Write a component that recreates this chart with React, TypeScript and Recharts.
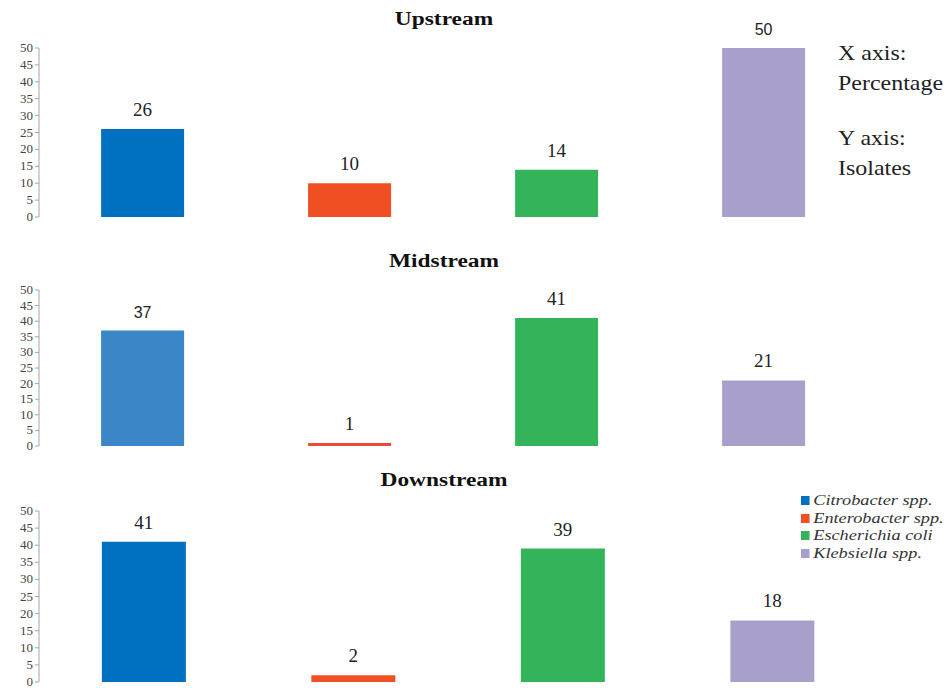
import React from 'react';
import { BarChart, Bar, XAxis, YAxis, Cell, LabelList, Legend } from 'recharts';

// Values (percent of isolates)
const species = ['Citrobacter spp.', 'Enterobacter spp.', 'Escherichia coli', 'Klebsiella spp.'];
const upstream = [26, 10, 14, 50];
const midstream = [37, 1, 41, 21];
const downstream = [41, 2, 39, 18];
const yTicks = [0, 5, 10, 15, 20, 25, 30, 35, 40, 45, 50];
const sideNotes = [['X axis:', 'Percentage'], ['Y axis:', 'Isolates']];

const SERIF = '"Liberation Serif", "Times New Roman", serif';
const SANS = '"Liberation Sans", Arial, sans-serif';
const AXIS_GRAY = '#a6a6a6';

const palette = ['#0070c0', '#f04e23', '#33b45b', '#a89fcb'];
const midPalette = ['#3a86c6', '#e94b35', '#33b45b', '#a89fcb'];

interface PanelProps {
  title: string;
  values: number[];
  colors: string[];
  top: number;
  height: number;
  margin: { top: number; right: number; bottom: number; left: number };
  titleY: number;
  sansLabel?: number; // index of the one label that was typeset in a sans font
  showLegend?: boolean;
}

const LegendBox = () => (
  <div
    style={{
      fontFamily: SERIF, fontStyle: 'italic', fontSize: 15, lineHeight: '17.5px', color: '#333',
      transform: 'scaleX(1.22)', transformOrigin: 'left top', whiteSpace: 'nowrap',
    }}
  >
    {species.map((s, i) => (
      <div key={s} style={{ display: 'flex', alignItems: 'center', height: 17.5 }}>
        <span style={{ width: 7, height: 9, background: palette[i], marginRight: 3, display: 'inline-block' }} />
        <span>{s}</span>
      </div>
    ))}
  </div>
);

const YTick = (props: any) => {
  const { x, y, payload } = props;
  return (
    <text x={x} y={y} dy={4} textAnchor="end" fontFamily={SERIF} fontSize={13} fill="#444">
      {payload.value}
    </text>
  );
};

const Panel: React.FC<PanelProps> = ({ title, values, colors, top, height, margin, titleY, sansLabel, showLegend }) => {
  const data = species.map((name, i) => ({ name, value: values[i] }));

  const renderLabel = (props: any) => {
    const { x, y, width, value, index } = props;
    const sans = index === sansLabel;
    return (
      <text
        x={x + width / 2}
        y={y - 13}
        textAnchor="middle"
        fontFamily={sans ? SANS : SERIF}
        fontSize={sans ? 16 : 19}
        fill="#222"
      >
        {value}
      </text>
    );
  };

  return (
    <div style={{ position: 'absolute', left: 0, top, width: 952, height }}>
      <div
        style={{
          position: 'absolute', left: 444, top: titleY - top - 11, transform: 'translateX(-50%) scaleX(1.3)',
          fontFamily: SERIF, fontWeight: 'bold', fontSize: 18, color: '#111', whiteSpace: 'nowrap',
        }}
      >
        {title}
      </div>
      <BarChart width={952} height={height} data={data} margin={margin} barCategoryGap="30%">
        <XAxis dataKey="name" tick={false} tickLine={false} axisLine={{ stroke: AXIS_GRAY }} height={0} />
        <YAxis
          domain={[0, 50]}
          ticks={yTicks}
          interval={0}
          width={39}
          axisLine={{ stroke: AXIS_GRAY }}
          tickLine={{ stroke: AXIS_GRAY }}
          tickSize={4}
          tickMargin={2}
          tick={<YTick />}
        />
        <Bar dataKey="value" isAnimationActive={false}>
          {data.map((d, i) => (
            <Cell key={d.name} fill={colors[i]} />
          ))}
          <LabelList dataKey="value" content={renderLabel} />
        </Bar>
        {showLegend && (
          <Legend
            layout="horizontal"
            verticalAlign="middle"
            align="center"
            content={() => <LegendBox />}
            wrapperStyle={{ left: 801, top: 32, width: 150 }}
          />
        )}
      </BarChart>
    </div>
  );
};

export default function App() {
  return (
    <div style={{ position: 'absolute', left: 0, top: 0, width: 952, height: 688, background: '#fff' }}>
      <Panel
        title="Upstream"
        values={upstream}
        colors={palette}
        top={0}
        height={230}
        margin={{ top: 48, right: 85, bottom: 13, left: 0 }}
        titleY={20}
        sansLabel={3}
      />
      <Panel
        title="Midstream"
        values={midstream}
        colors={midPalette}
        top={240}
        height={220}
        margin={{ top: 50, right: 85, bottom: 14, left: 0 }}
        titleY={262}
        sansLabel={0}
      />
      <Panel
        title="Downstream"
        values={downstream}
        colors={palette}
        top={460}
        height={228}
        margin={{ top: 51, right: 75, bottom: 6, left: 0 }}
        titleY={481}
        showLegend
      />
      {sideNotes.map((lines, i) => (
        <div
          key={lines[0]}
          style={{
            position: 'absolute', left: 838, top: i === 0 ? 38 : 123,
            fontFamily: SERIF, fontSize: 21, lineHeight: '30px', color: '#222',
            transform: 'scaleX(1.14)', transformOrigin: 'left top', whiteSpace: 'nowrap',
          }}
        >
          {lines.map((l) => (
            <div key={l}>{l}</div>
          ))}
        </div>
      ))}
    </div>
  );
}
